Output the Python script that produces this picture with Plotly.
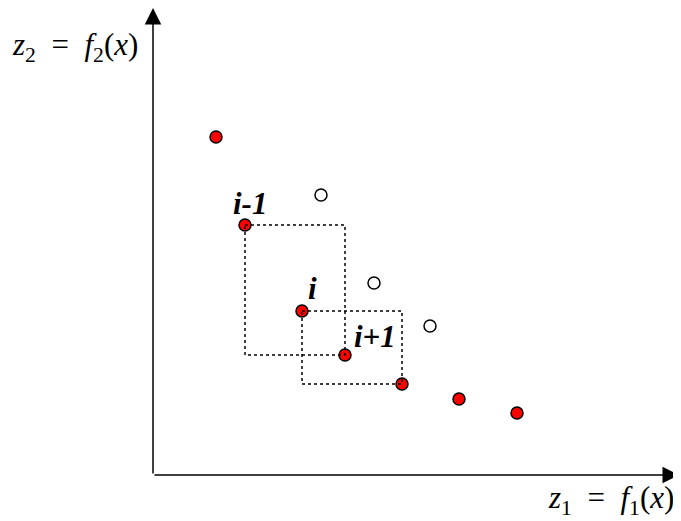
import plotly.graph_objects as go

# puntos no dominados (rojos) y dominados (blancos)
rojo_x = [63, 92, 149, 192, 249, 306, 364]
rojo_y = [338, 250, 164, 120, 91, 76, 62]
blanco_x = [168, 221, 277]
blanco_y = [280, 192, 149]

# etiquetas de los vecinos
etiquetas = ["i-1", "i", "i+1"]
etq_x = [97, 159, 222]
etq_y = [272, 187, 139]

fig = go.Figure()

# cajas punteadas entre vecinos
fig.add_shape(type="rect", x0=rojo_x[1], y0=rojo_y[1], x1=rojo_x[3], y1=rojo_y[3],
              line=dict(color="black", width=1.5, dash="dot"))
fig.add_shape(type="rect", x0=rojo_x[2], y0=rojo_y[2], x1=rojo_x[4], y1=rojo_y[4],
              line=dict(color="black", width=1.5, dash="dot"))

fig.add_trace(go.Scatter(x=blanco_x, y=blanco_y, mode="markers",
                         marker=dict(size=12, color="white", line=dict(color="black", width=1.5))))
fig.add_trace(go.Scatter(x=rojo_x, y=rojo_y, mode="markers",
                         marker=dict(size=12, color="red", line=dict(color="black", width=1.5))))

# ejes con flecha
fig.add_annotation(x=0, y=467, ax=0, ay=0, xref="x", yref="y", axref="x", ayref="y",
                   showarrow=True, arrowhead=2, arrowsize=2.2, arrowwidth=1.5, arrowcolor="black", text="")
fig.add_annotation(x=526, y=0, ax=0, ay=0, xref="x", yref="y", axref="x", ayref="y",
                   showarrow=True, arrowhead=2, arrowsize=2.2, arrowwidth=1.5, arrowcolor="black", text="")

for t, x, y in zip(etiquetas, etq_x, etq_y):
    fig.add_annotation(x=x, y=y, text="<b><i>" + t + "</i></b>", showarrow=False,
                       font=dict(family="Liberation Serif", size=31, color="black"))

fig.add_annotation(x=-143, y=428, xanchor="left",
                   text="<i>z</i><sub>2</sub>&nbsp;&nbsp;=&nbsp;&nbsp;<i>f</i><sub>2</sub>(<i>x</i>)",
                   showarrow=False, font=dict(family="Liberation Serif", size=31, color="black"))
fig.add_annotation(x=523, y=-25, xanchor="right",
                   text="<i>z</i><sub>1</sub>&nbsp;&nbsp;=&nbsp;&nbsp;<i>f</i><sub>1</sub>(<i>x</i>)",
                   showarrow=False, font=dict(family="Liberation Serif", size=31, color="black"))

# la página pone 8 px de margen: el lienzo mide 673x513
fig.update_layout(width=673, height=513, margin=dict(l=0, r=0, t=0, b=0),
                  plot_bgcolor="white", paper_bgcolor="white", showlegend=False)
fig.update_xaxes(range=[-145, 528], visible=False)
fig.update_yaxes(range=[-46, 467], visible=False)

fig.write_html("out.html")
